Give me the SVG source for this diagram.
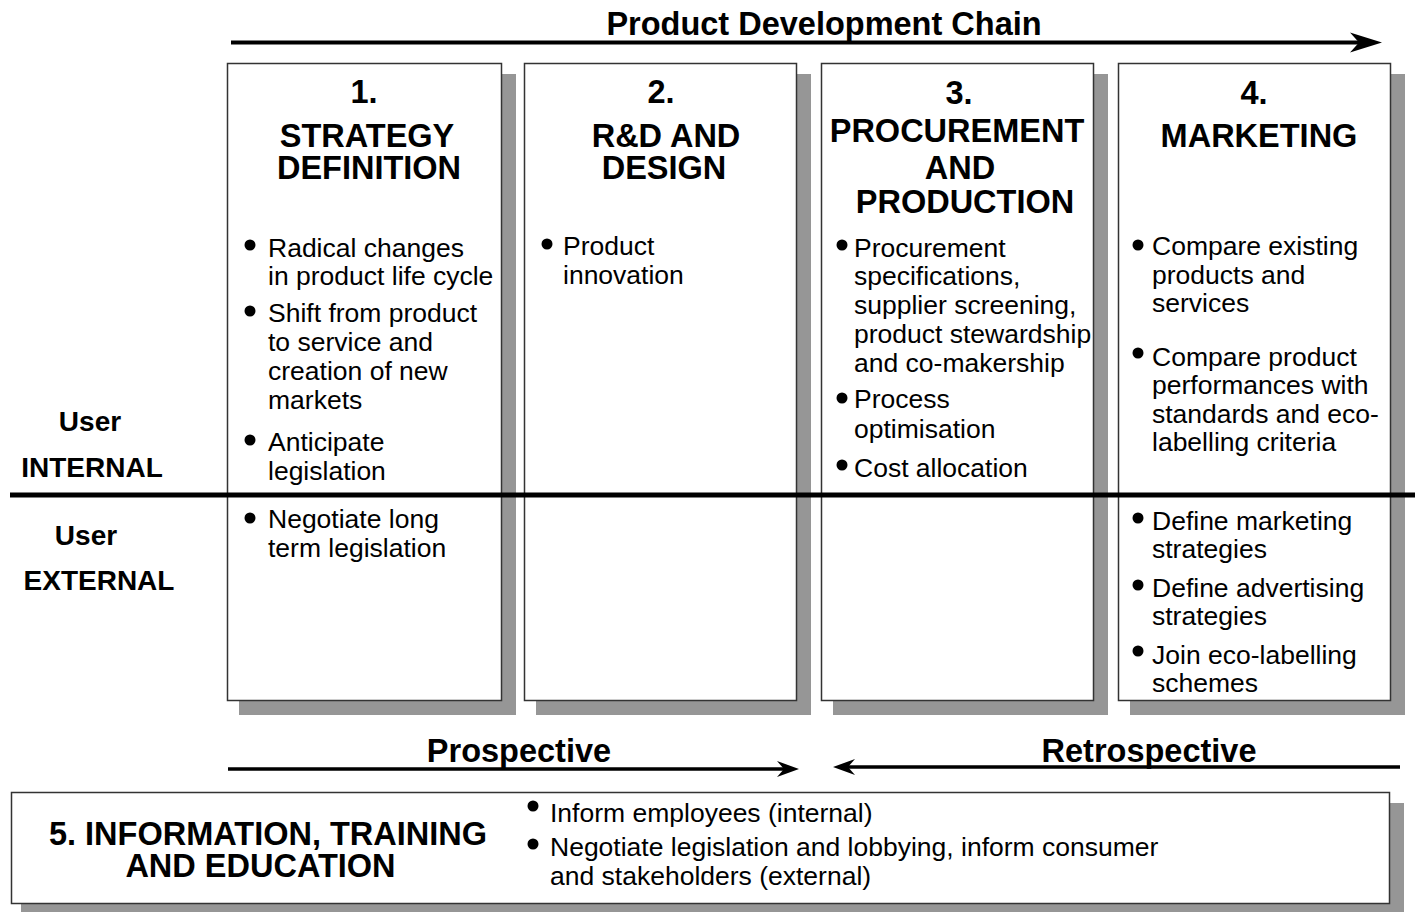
<svg xmlns="http://www.w3.org/2000/svg" width="1415" height="912" viewBox="0 0 1415 912">
  <style>
    .shadow { fill: #969696; }
    .box { fill: #ffffff; stroke: #333333; stroke-width: 1.5; }
    .hd { font-family: "Liberation Sans", Arial, sans-serif; font-weight: bold; font-size: 32.5px; fill: #000; text-anchor: middle; }
    .side { font-family: "Liberation Sans", Arial, sans-serif; font-weight: bold; font-size: 28px; fill: #000; text-anchor: middle; }
    .txt { font-family: "Liberation Sans", Arial, sans-serif; font-size: 26.5px; fill: #000; }
    .dot { fill: #000; }
    .arrow { stroke: #000; fill: none; }
  </style>
  <defs>
    <marker id="headBig" markerUnits="userSpaceOnUse" markerWidth="34" markerHeight="22" refX="9" refY="10" orient="auto" overflow="visible">
      <path d="M0,0 L32,10 L0,20 L9,10 Z" fill="#000"/>
    </marker>
    <marker id="headSmall" markerUnits="userSpaceOnUse" markerWidth="24" markerHeight="18" refX="7" refY="8" orient="auto" overflow="visible">
      <path d="M0,0 L22,8 L0,16 L7,8 Z" fill="#000"/>
    </marker>
  </defs>

  <rect width="1415" height="912" fill="#ffffff"/>

  <text class="hd" x="824" y="35">Product Development Chain</text>

  <g id="col1">
    <rect class="shadow" x="239" y="74" width="277" height="641"/>
    <rect class="box" x="227.5" y="63.5" width="274" height="637"/>
    <text class="hd" x="364" y="103">1.</text>
    <text class="hd" x="367" y="147">STRATEGY</text>
    <text class="hd" x="369" y="179">DEFINITION</text>
    <circle class="dot" cx="250" cy="245" r="5.5"/>
    <circle class="dot" cx="250" cy="311" r="5.5"/>
    <circle class="dot" cx="250" cy="440" r="5.5"/>
    <circle class="dot" cx="250" cy="518" r="5.5"/>
    <text class="txt">
      <tspan x="268" y="256.5">Radical changes</tspan>
      <tspan x="268" y="284.5">in product life cycle</tspan>
      <tspan x="268" y="322">Shift from product</tspan>
      <tspan x="268" y="351">to service and</tspan>
      <tspan x="268" y="380">creation of new</tspan>
      <tspan x="268" y="409">markets</tspan>
      <tspan x="268" y="451">Anticipate</tspan>
      <tspan x="268" y="480">legislation</tspan>
      <tspan x="268" y="528">Negotiate long</tspan>
      <tspan x="268" y="557">term legislation</tspan>
    </text>
  </g>

  <g id="col2">
    <rect class="shadow" x="536" y="74" width="275" height="641"/>
    <rect class="box" x="524.5" y="63.5" width="272" height="637"/>
    <text class="hd" x="661" y="103">2.</text>
    <text class="hd" x="666" y="147">R&amp;D AND</text>
    <text class="hd" x="664" y="179">DESIGN</text>
    <circle class="dot" cx="547" cy="244" r="5.5"/>
    <text class="txt">
      <tspan x="563" y="255">Product</tspan>
      <tspan x="563" y="284">innovation</tspan>
    </text>
  </g>

  <g id="col3">
    <rect class="shadow" x="833" y="74" width="275" height="641"/>
    <rect class="box" x="821.5" y="63.5" width="272" height="637"/>
    <text class="hd" x="959" y="104">3.</text>
    <text class="hd" x="957" y="141.5">PROCUREMENT</text>
    <text class="hd" x="960" y="179">AND</text>
    <text class="hd" x="965" y="213">PRODUCTION</text>
    <circle class="dot" cx="842" cy="245" r="5.5"/>
    <circle class="dot" cx="842" cy="398" r="5.5"/>
    <circle class="dot" cx="842" cy="465" r="5.5"/>
    <text class="txt">
      <tspan x="854" y="256.5">Procurement</tspan>
      <tspan x="854" y="285">specifications,</tspan>
      <tspan x="854" y="313.5">supplier screening,</tspan>
      <tspan x="854" y="342.5">product stewardship</tspan>
      <tspan x="854" y="371.5">and co-makership</tspan>
      <tspan x="854" y="408">Process</tspan>
      <tspan x="854" y="437.5">optimisation</tspan>
      <tspan x="854" y="476.5">Cost allocation</tspan>
    </text>
  </g>

  <g id="col4">
    <rect class="shadow" x="1130" y="74" width="275" height="641"/>
    <rect class="box" x="1118.5" y="63.5" width="272" height="637"/>
    <text class="hd" x="1254" y="104">4.</text>
    <text class="hd" x="1259" y="147">MARKETING</text>
    <circle class="dot" cx="1138" cy="245" r="5.5"/>
    <circle class="dot" cx="1138" cy="353" r="5.5"/>
    <circle class="dot" cx="1138" cy="518" r="5.5"/>
    <circle class="dot" cx="1138" cy="585" r="5.5"/>
    <circle class="dot" cx="1138" cy="651" r="5.5"/>
    <text class="txt">
      <tspan x="1152" y="255">Compare existing</tspan>
      <tspan x="1152" y="283.5">products and</tspan>
      <tspan x="1152" y="312">services</tspan>
      <tspan x="1152" y="365.5">Compare product</tspan>
      <tspan x="1152" y="394">performances with</tspan>
      <tspan x="1152" y="422.5">standards and eco-</tspan>
      <tspan x="1152" y="451">labelling criteria</tspan>
      <tspan x="1152" y="529.5">Define marketing</tspan>
      <tspan x="1152" y="558">strategies</tspan>
      <tspan x="1152" y="596.5">Define advertising</tspan>
      <tspan x="1152" y="624.5">strategies</tspan>
      <tspan x="1152" y="663.5">Join eco-labelling</tspan>
      <tspan x="1152" y="692">schemes</tspan>
    </text>
  </g>

  <g id="col5">
    <rect class="shadow" x="21" y="803" width="1383" height="115"/>
    <rect class="box" x="11.5" y="792.5" width="1378" height="111"/>
    <text class="hd" x="268" y="845">5. INFORMATION, TRAINING</text>
    <text class="hd" x="260.5" y="876.5">AND EDUCATION</text>
    <circle class="dot" cx="533" cy="806" r="5.5"/>
    <circle class="dot" cx="533" cy="844" r="5.5"/>
    <text class="txt">
      <tspan x="550" y="822">Inform employees (internal)</tspan>
      <tspan x="550" y="856">Negotiate legislation and lobbying, inform consumer</tspan>
      <tspan x="550" y="885">and stakeholders (external)</tspan>
    </text>
  </g>

  <g id="user-labels">
    <text class="side" x="90" y="431">User</text>
    <text class="side" x="92" y="477">INTERNAL</text>
    <text class="side" x="86" y="545">User</text>
    <text class="side" x="99" y="590">EXTERNAL</text>
  </g>

  <g id="connectors">
    <line class="arrow" x1="231" y1="42.5" x2="1359" y2="42.5" stroke-width="4" marker-end="url(#headBig)"/>
    <line x1="10" y1="495" x2="1415" y2="495" stroke="#000" stroke-width="5"/>
    <line class="arrow" x1="228" y1="769" x2="784" y2="769" stroke-width="3.5" marker-end="url(#headSmall)"/>
    <line class="arrow" x1="1400" y1="767" x2="848" y2="767" stroke-width="3.5" marker-end="url(#headSmall)"/>
  </g>

  <g id="direction-labels">
    <text class="hd" x="519" y="762">Prospective</text>
    <text class="hd" x="1149" y="762">Retrospective</text>
  </g>
</svg>
